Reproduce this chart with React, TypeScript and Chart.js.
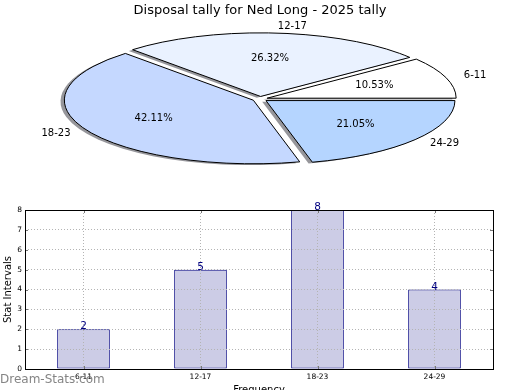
import React, { useEffect, useRef } from 'react';
import { Chart, registerables } from 'chart.js';

Chart.register(...registerables);

const FONT = '"DejaVu Sans", "Liberation Sans", sans-serif';

// ---- data ----
const categories = ['6-11', '12-17', '18-23', '24-29'];
const counts = [2, 5, 8, 4];
const pieColors = ['#ffffff', '#eaf2ff', '#c5d8ff', '#b5d5ff'];
const yTickValues = [0, 1, 2, 3, 4, 5, 6, 7, 8];
const chartTitle = 'Disposal tally for Ned Long - 2025 tally';
const xAxisTitle = 'Frequency';
const yAxisTitle = 'Stat Intervals';
const watermark = 'Dream-Stats.com';

// ---- pie look ----
const EXPLODE = 0.04; // fraction of radius
const SQUISH = 0.3365; // vertical / horizontal radius
const LABEL_DIST = 1.1;
const PCT_DIST = 0.6;
const SHADOW_DX = -3.8;
const SHADOW_DY = 1.3;

function pieCenter(chart: any) {
  const a = chart.chartArea;
  return { cx: (a.left + a.right) / 2, cy: (a.top + a.bottom) / 2 };
}

function squish(ctx: CanvasRenderingContext2D, cx: number, cy: number) {
  ctx.translate(cx, cy);
  ctx.scale(1, SQUISH);
  ctx.translate(-cx, -cy);
}

function wedgePath(ctx: CanvasRenderingContext2D, a: any) {
  ctx.beginPath();
  ctx.moveTo(a.x, a.y);
  ctx.arc(a.x, a.y, a.outerRadius, a.startAngle, a.endAngle);
  ctx.closePath();
}

const ellipsePiePlugin = {
  id: 'ellipsePie',
  afterDatasetsUpdate(chart: any) {
    const meta = chart.getDatasetMeta(0);
    meta.data.forEach((arc: any) => {
      const mid = (arc.startAngle + arc.endAngle) / 2;
      const d = EXPLODE * arc.outerRadius;
      arc.x = arc.x + Math.cos(mid) * d;
      arc.y = arc.y + Math.sin(mid) * d;
    });
  },
  beforeDatasetsDraw(chart: any) {
    const ctx: CanvasRenderingContext2D = chart.ctx;
    const { cx, cy } = pieCenter(chart);
    const arcs = chart.getDatasetMeta(0).data;
    ctx.save();
    ctx.translate(SHADOW_DX, SHADOW_DY);
    squish(ctx, cx, cy);
    ctx.fillStyle = 'rgba(45,45,55,0.5)';
    arcs.forEach((a: any) => {
      wedgePath(ctx, a);
      ctx.fill();
    });
    ctx.restore();
    ctx.save();
    squish(ctx, cx, cy);
  },
  afterDatasetsDraw(chart: any) {
    const ctx: CanvasRenderingContext2D = chart.ctx;
    ctx.restore();
    const { cx, cy } = pieCenter(chart);
    const arcs = chart.getDatasetMeta(0).data;
    const values: number[] = chart.data.datasets[0].data;
    const labels: string[] = chart.data.labels;
    const total = values.reduce((s, v) => s + v, 0);
    arcs.forEach((a: any) => {
      ctx.save();
      squish(ctx, cx, cy);
      wedgePath(ctx, a);
      ctx.restore();
      ctx.lineWidth = 1;
      ctx.lineJoin = 'miter';
      ctx.strokeStyle = '#000000';
      ctx.stroke();
    });
    ctx.save();
    ctx.fillStyle = '#000000';
    ctx.font = `10px ${FONT}`;
    arcs.forEach((a: any, i: number) => {
      const mid = (a.startAngle + a.endAngle) / 2;
      const c = Math.cos(mid);
      const s = Math.sin(mid);
      const lx = a.x + c * a.outerRadius * LABEL_DIST;
      const ly = cy + (a.y + s * a.outerRadius * LABEL_DIST - cy) * SQUISH;
      ctx.textAlign = lx > cx ? 'left' : 'right';
      ctx.textBaseline = 'middle';
      ctx.fillText(labels[i], lx, ly);
      const px = a.x + c * a.outerRadius * PCT_DIST;
      const py = cy + (a.y + s * a.outerRadius * PCT_DIST - cy) * SQUISH;
      ctx.textAlign = 'center';
      ctx.fillText(((values[i] / total) * 100).toFixed(2) + '%', px, py);
    });
    ctx.restore();
  },
  afterDraw(chart: any) {
    const ctx: CanvasRenderingContext2D = chart.ctx;
    ctx.save();
    ctx.fillStyle = '#000000';
    ctx.font = `13px ${FONT}`;
    ctx.textAlign = 'center';
    ctx.textBaseline = 'alphabetic';
    ctx.fillText(chartTitle, 260, 14);
    ctx.restore();
  },
};

const barDecorPlugin = {
  id: 'barDecor',
  afterDraw(chart: any) {
    const ctx: CanvasRenderingContext2D = chart.ctx;
    const area = chart.chartArea;
    const xs = chart.scales.x;
    const ys = chart.scales.y;
    ctx.save();
    // tick marks inside the frame
    ctx.strokeStyle = '#777777';
    ctx.lineWidth = 1;
    ctx.beginPath();
    yTickValues.forEach((v) => {
      const y = Math.round(ys.getPixelForValue(v)) + 0.5;
      ctx.moveTo(area.left, y);
      ctx.lineTo(area.left + 3, y);
      ctx.moveTo(area.right, y);
      ctx.lineTo(area.right - 3, y);
    });
    categories.forEach((_, i) => {
      const x = Math.round(xs.getPixelForValue(i)) + 0.5;
      ctx.moveTo(x, area.top);
      ctx.lineTo(x, area.top + 3);
      ctx.moveTo(x, area.bottom);
      ctx.lineTo(x, area.bottom - 3);
    });
    ctx.stroke();
    // frame
    ctx.strokeStyle = '#000000';
    ctx.strokeRect(
      Math.round(area.left) + 0.5,
      Math.round(area.top) + 0.5,
      Math.round(area.right - area.left),
      Math.round(area.bottom - area.top)
    );
    // value labels
    const meta = chart.getDatasetMeta(0);
    const vals: number[] = chart.data.datasets[0].data;
    ctx.fillStyle = '#000080';
    ctx.font = `10.5px ${FONT}`;
    ctx.textAlign = 'center';
    ctx.textBaseline = 'alphabetic';
    meta.data.forEach((bar: any, i: number) => {
      ctx.fillText(String(vals[i]), bar.x, bar.y);
    });
    // x axis title (partly below the page)
    ctx.fillStyle = '#000000';
    ctx.font = `10px ${FONT}`;
    ctx.fillText(xAxisTitle, (area.left + area.right) / 2, 198);
    // watermark
    ctx.fillStyle = 'rgba(110,110,110,0.85)';
    ctx.font = `12px ${FONT}`;
    ctx.textAlign = 'left';
    ctx.fillText(watermark, 0, 188);
    ctx.restore();
  },
};

export default function App() {
  const pieRef = useRef<HTMLCanvasElement | null>(null);
  const barRef = useRef<HTMLCanvasElement | null>(null);

  useEffect(() => {
    Chart.defaults.font.family = FONT;
    Chart.defaults.color = '#000000';

    // Pie: clockwise from 3 o'clock equals matplotlib's counter-clockwise order reversed
    const pieLabels = [...categories].reverse();
    const pieValues = [...counts].reverse();
    const pieBg = [...pieColors].reverse();

    const pie = new Chart(pieRef.current as HTMLCanvasElement, {
      type: 'pie',
      data: {
        labels: pieLabels,
        datasets: [
          {
            data: pieValues,
            backgroundColor: pieBg,
            borderWidth: 0,
            radius: 189,
            clip: false,
          } as any,
        ],
      },
      options: {
        responsive: false,
        animation: false,
        events: [],
        rotation: 90,
        layout: { padding: { left: 1, right: 1, top: 3, bottom: 0 } },
        plugins: { legend: { display: false }, tooltip: { enabled: false }, title: { display: false } },
      },
      plugins: [ellipsePiePlugin],
    });

    const gridCommon = {
      color: '#b4b4b4',
      lineWidth: 1,
      drawTicks: false,
      z: 1,
    };

    const bar = new Chart(barRef.current as HTMLCanvasElement, {
      type: 'bar',
      data: {
        labels: categories,
        datasets: [
          {
            data: counts,
            backgroundColor: '#cccce6',
            borderColor: '#000080',
            borderWidth: 1,
            borderSkipped: false,
            barPercentage: 0.45,
            categoryPercentage: 1,
          },
        ],
      },
      options: {
        responsive: false,
        animation: false,
        events: [],
        layout: { padding: { left: 0, right: 27, top: 15, bottom: 0 } },
        plugins: { legend: { display: false }, tooltip: { enabled: false } },
        scales: {
          x: {
            offset: true,
            grid: { ...gridCommon, offset: false },
            border: { display: false, dash: [1, 2] },
            ticks: { font: { size: 7.5 }, color: '#000000', padding: 4, maxRotation: 0, autoSkip: false },
            afterFit: (s: any) => {
              s.height = 21;
            },
          },
          y: {
            min: 0,
            max: 8,
            grid: { ...gridCommon },
            border: { display: false, dash: [1, 2] },
            ticks: { stepSize: 1, font: { size: 7.5 }, color: '#000000', padding: 3 },
            title: {
              display: true,
              text: yAxisTitle,
              font: { size: 10 },
              color: '#000000',
              padding: { top: 2, bottom: 0 },
            },
            afterFit: (s: any) => {
              s.width = 25;
            },
          },
        },
      },
      plugins: [barDecorPlugin],
    });

    return () => {
      pie.destroy();
      bar.destroy();
    };
  }, []);

  return (
    <div style={{ position: 'fixed', left: 0, top: 0, width: 520, height: 390, background: '#ffffff' }}>
      <canvas ref={barRef} width={520} height={195} style={{ position: 'absolute', left: 0, top: 195 }} />
      <canvas ref={pieRef} width={520} height={195} style={{ position: 'absolute', left: 0, top: 0 }} />
    </div>
  );
}
